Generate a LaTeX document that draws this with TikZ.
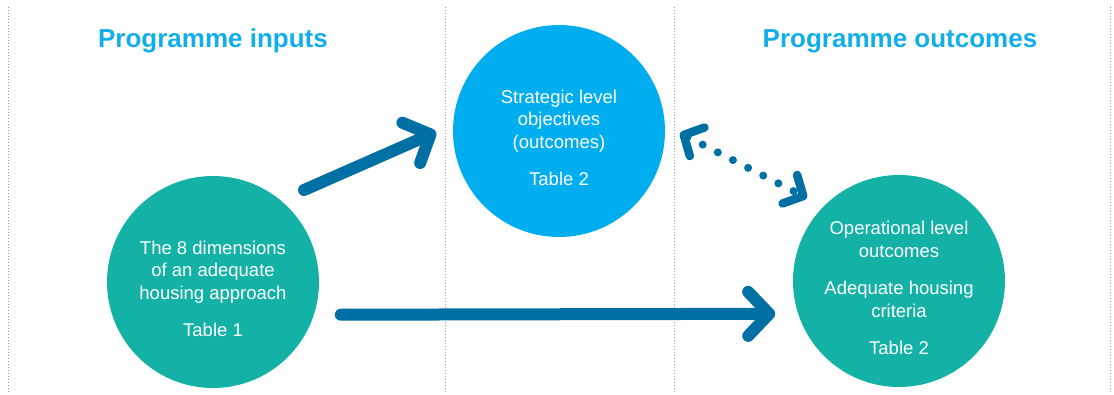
\documentclass[tikz,border=0pt]{standalone}
\usepackage{fontspec}
\setmainfont{Liberation Sans}
\usetikzlibrary{arrows.meta,calc}
\definecolor{tealc}{HTML}{14B2A6}
\definecolor{skyc}{HTML}{00AEEF}
\definecolor{arrowc}{HTML}{0070A4}
\definecolor{headc}{HTML}{12AEEB}
\definecolor{sepc}{HTML}{9A9A9A}
\newcommand\bubbletext[1]{\raisebox{-9pt}[\height][\depth]{\begin{tabular}{@{}c@{}}#1\end{tabular}}}
\begin{document}
\begin{tikzpicture}[x=1pt,y=-1pt,
  sep/.style={sepc, line width=1pt, dash pattern=on 1pt off 2pt},
  heading/.style={text=headc, font=\fontsize{26}{30}\selectfont\bfseries, anchor=base},
  bubble/.style={circle, minimum size=212pt, inner sep=0pt, outer sep=0pt, text=white, font=\fontsize{18.5}{22.5}\selectfont},
  bigarrow/.style={arrowc, line width=12pt, line cap=round, -{Straight Barb[length=21pt,width=44pt,line cap=round,line join=round]}},
  dotarrow/.style={arrowc, line width=8pt, line cap=round, dash pattern=on 0pt off 17pt,
    {Straight Barb[length=15pt,width=32pt,line width=8.5pt,line cap=round,line join=round]}-{Straight Barb[length=15pt,width=32pt,line width=8.5pt,line cap=round,line join=round]}}
]
\useasboundingbox (0,0) rectangle (1114,394);
% separators
\draw[sep] (8,7) -- (8,393);
\draw[sep] (445,7) -- (445,393);
\draw[sep] (674,7) -- (674,393);
\draw[sep] (1110,7) -- (1110,393);
% headings
\node[heading] (hin) at (213,47) {Programme inputs};
\node[heading] (hout) at (900,47) {Programme outcomes};
% circles
\node[bubble, fill=tealc] (dims) at (213,282) {\bubbletext{The 8 dimensions\\of an adequate\\housing approach\\[15pt]Table 1}};
\node[bubble, fill=skyc] (strat) at (559,131) {\bubbletext{Strategic level\\objectives\\(outcomes)\\[15pt]Table 2}};
\node[bubble, fill=tealc] (oper) at (899,281) {\bubbletext{Operational level\\outcomes\\[15pt]Adequate housing\\criteria\\[15pt]Table 2}};
% connectors
\coordinate (d1) at (304,190);
\coordinate (d2) at (436,132);
\draw[bigarrow] (d1) -- (d2);
\draw[bigarrow, shorten <=27pt, shorten >=23pt] (dims.-18) -- (oper.198);
\coordinate (e1) at (680,133);
\coordinate (e2) at (807,198);
\draw[dotarrow] (e1) -- (e2);
\end{tikzpicture}
\end{document}
